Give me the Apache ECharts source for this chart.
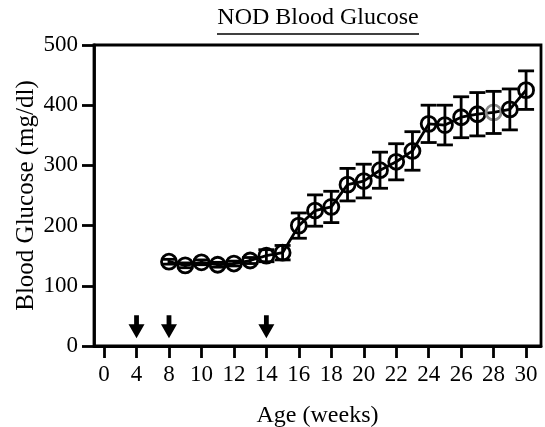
<!DOCTYPE html>
<html>
<head>
<meta charset="utf-8">
<script src="https://cdn.jsdelivr.net/npm/echarts@6/dist/echarts.min.js"></script>
<style>
html,body{margin:0;padding:0;background:#fff;}
#chart{width:545px;height:427px;}
</style>
</head>
<body>
<div id="chart"></div>
<script>
// weeks of age and mean blood glucose (mg/dl) with error
const weeks = [8, 9, 10, 11, 12, 13, 14, 15, 16, 17, 18, 19, 20, 21, 22, 23, 24, 25, 26, 27, 28, 29, 30];
const glucose = [140, 134, 139, 135, 137, 142, 150, 155, 200, 225, 231, 268, 274, 292, 306, 324, 369, 367, 380, 385, 388, 393, 425];
const glucoseErr = [4, 4, 4, 4, 4, 5, 10, 12, 21, 26, 26, 27, 28, 30, 30, 32, 31, 33, 34, 36, 35, 34, 32];
const greyWeek = 28;
const arrowWeeks = [4, 8, 14];
const xTickWeeks = [0, 4, 8, 10, 12, 14, 16, 18, 20, 22, 24, 26, 28, 30];
const yTicks = [0, 100, 200, 300, 400, 500];

// broken x scale: 0-8 in steps of 4, then steps of 2
function weekToPos(w){
    return w <= 8 ? w / 4 : w / 2 - 2;
}

const font = 'Liberation Serif';
const lw = 2.8;
const chart = echarts.init(document.getElementById('chart'));

const lineData = weeks.map((w, i) => {
    const item = {value: [weekToPos(w), glucose[i]]};
    if (w === greyWeek) item.itemStyle = {borderColor: '#8a8a8a'};
    return item;
});
const errData = weeks.map((w, i) => [weekToPos(w), glucose[i] - glucoseErr[i], glucose[i] + glucoseErr[i]]);
const arrowLevel = 32;

const option = {
    animation: false,
    graphic: [
        {
            type: 'text',
            x: 318, y: 30,
            style: {
                text: 'NOD Blood Glucose',
                fontFamily: font, fontSize: 24, fill: '#000',
                align: 'center', verticalAlign: 'bottom'
            }
        },
        {
            type: 'line',
            shape: {x1: 217, y1: 34, x2: 419, y2: 34},
            style: {stroke: '#000', lineWidth: 1.5}
        }
    ],
    grid: {
        left: 94, right: 4, top: 45, bottom: 81,
        outerBoundsMode: 'none',
        containLabel: false,
        show: true, borderColor: '#000', borderWidth: lw
    },
    xAxis: {
        type: 'value',
        min: -0.31,
        max: 13.46,
        name: 'Age (weeks)',
        nameLocation: 'middle',
        nameGap: 58,
        nameMoveOverlap: false,
        nameTextStyle: {fontFamily: font, fontSize: 24, color: '#000'},
        axisLine: {onZero: false, lineStyle: {color: '#000', width: lw}},
        axisTick: {
            length: 12,
            lineStyle: {color: '#000', width: lw},
            customValues: xTickWeeks.map(weekToPos)
        },
        axisLabel: {
            fontFamily: font, fontSize: 23, color: '#000', margin: 17,
            customValues: xTickWeeks.map(weekToPos),
            formatter: function(v){
                const i = xTickWeeks.findIndex(w => Math.abs(weekToPos(w) - v) < 1e-6);
                return i >= 0 ? String(xTickWeeks[i]) : '';
            }
        },
        splitLine: {show: false}
    },
    yAxis: {
        type: 'value',
        min: yTicks[0],
        max: yTicks[yTicks.length - 1],
        interval: 100,
        name: 'Blood Glucose (mg/dl)',
        nameLocation: 'middle',
        nameGap: 55,
        nameMoveOverlap: false,
        nameTextStyle: {fontFamily: font, fontSize: 25, color: '#000'},
        axisLine: {show: true, onZero: false, lineStyle: {color: '#000', width: lw}},
        axisTick: {show: true, length: 12, lineStyle: {color: '#000', width: lw}},
        axisLabel: {fontFamily: font, fontSize: 23, color: '#000', margin: 16},
        splitLine: {show: false}
    },
    series: [
        {
            type: 'line',
            data: lineData,
            symbol: 'circle',
            symbolSize: 15,
            z: 3,
            lineStyle: {color: '#000', width: lw},
            itemStyle: {color: 'rgba(255,255,255,0)', borderColor: '#000', borderWidth: lw}
        },
        {
            type: 'custom',
            data: errData,
            z: 4,
            renderItem: function(params, api){
                const lo = api.coord([api.value(0), api.value(1)]);
                const hi = api.coord([api.value(0), api.value(2)]);
                const hw = 8;
                const st = {stroke: '#000', lineWidth: lw};
                return {
                    type: 'group',
                    children: [
                        {type: 'line', shape: {x1: lo[0], y1: lo[1], x2: hi[0], y2: hi[1]}, style: st},
                        {type: 'line', shape: {x1: lo[0] - hw, y1: lo[1], x2: lo[0] + hw, y2: lo[1]}, style: st},
                        {type: 'line', shape: {x1: hi[0] - hw, y1: hi[1], x2: hi[0] + hw, y2: hi[1]}, style: st}
                    ]
                };
            }
        },
        {
            type: 'scatter',
            data: arrowWeeks.map(w => [weekToPos(w), arrowLevel]),
            symbol: 'path://M5.6,0L10.4,0L10.4,9L16,9L8,23L0,9L5.6,9Z',
            symbolSize: [16, 23],
            itemStyle: {color: '#000', opacity: 1},
            z: 5
        }
    ]
};
chart.setOption(option);
</script>
</body>
</html>
